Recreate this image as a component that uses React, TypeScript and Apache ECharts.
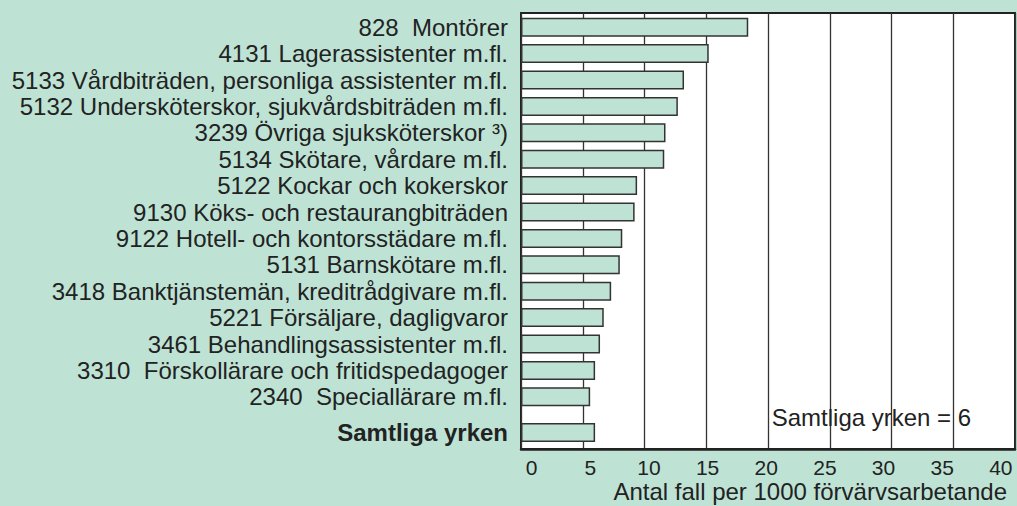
import React, { useEffect, useRef } from "react";
import * as echarts from "echarts";

const categories = [
  "828  Montörer",
  "4131 Lagerassistenter m.fl.",
  "5133 Vårdbiträden, personliga assistenter m.fl.",
  "5132 Undersköterskor, sjukvårdsbiträden m.fl.",
  "3239 Övriga sjuksköterskor ³)",
  "5134 Skötare, vårdare m.fl.",
  "5122 Kockar och kokerskor",
  "9130 Köks- och restaurangbiträden",
  "9122 Hotell- och kontorsstädare m.fl.",
  "5131 Barnskötare m.fl.",
  "3418 Banktjänstemän, kreditrådgivare m.fl.",
  "5221 Försäljare, dagligvaror",
  "3461 Behandlingsassistenter m.fl.",
  "3310  Förskollärare och fritidspedagoger",
  "2340  Speciallärare m.fl.",
];
const values = [18.4, 15.2, 13.2, 12.7, 11.7, 11.6, 9.4, 9.2, 8.2, 8.0, 7.3, 6.7, 6.4, 6.0, 5.6];

const totalCategory = ["Samtliga yrken"];
const totalValue = [6.0];

const tickLabels = ["0", "5", "10", "15", "20", "25", "30", "35", "40"];
const axisTitle = "Antal fall per 1000 förvärvsarbetande";
const note = "Samtliga yrken = 6";

const BG = "#bee3d5";
const INK = "#222222";
const FONT = "'Liberation Sans', Arial, sans-serif";

export default function App() {
  const ref = useRef<HTMLDivElement>(null);
  useEffect(() => {
    if (!ref.current) return;
    const chart = echarts.init(ref.current, undefined, { renderer: "svg" });
    const hiddenX = (gi: number) => ({
      type: "value" as const,
      gridIndex: gi,
      min: 0,
      max: 40,
      interval: 5,
      show: false,
      splitLine: { show: false },
    });
    chart.setOption({
      animation: false,
      backgroundColor: BG,
      textStyle: { fontFamily: FONT },
      grid: [
        {
          left: 521,
          top: 13,
          width: 494,
          height: 436,
          show: true,
          backgroundColor: "#ffffff",
          borderColor: INK,
          borderWidth: 2,
        },
        { left: 521, top: 14, width: 494, height: 396 },
        { left: 521, top: 416, width: 494, height: 33 },
        { left: 531.7, top: 13, width: 469.1, height: 436 },
      ],
      xAxis: [
        {
          type: "value",
          gridIndex: 0,
          min: 0,
          max: 40,
          interval: 5,
          axisLabel: { show: false },
          axisTick: { show: false },
          axisLine: { show: true, lineStyle: { color: INK, width: 2.5 } },
          splitLine: { show: true, lineStyle: { color: "#333333", width: 1.3 } },
        },
        hiddenX(1),
        hiddenX(2),
        {
          type: "value",
          gridIndex: 3,
          min: 0,
          max: 40,
          interval: 5,
          axisLine: { show: false },
          axisTick: { show: false },
          splitLine: { show: false },
          axisLabel: {
            show: true,
            margin: 8,
            color: INK,
            fontSize: 21,
            lineHeight: 20,
            fontFamily: FONT,
            formatter: (v: number) => tickLabels[Math.round(v / 5)] ?? "",
          },
        },
      ],
      yAxis: [
        { type: "value", gridIndex: 0, show: false, splitLine: { show: false } },
        {
          type: "category",
          gridIndex: 1,
          inverse: true,
          data: categories,
          axisLine: { show: false },
          axisTick: { show: false },
          splitLine: { show: false },
          axisLabel: { interval: 0, margin: 13, color: INK, fontSize: 24, lineHeight: 24, fontFamily: FONT },
        },
        {
          type: "category",
          gridIndex: 2,
          inverse: true,
          data: totalCategory,
          axisLine: { show: false },
          axisTick: { show: false },
          splitLine: { show: false },
          axisLabel: { interval: 0, margin: 13, color: INK, fontSize: 24, fontWeight: "bold", fontFamily: FONT },
        },
        { type: "value", gridIndex: 3, show: false, splitLine: { show: false } },
      ],
      series: [
        {
          type: "bar",
          xAxisIndex: 1,
          yAxisIndex: 1,
          data: values,
          barWidth: 19,
          itemStyle: { color: BG, borderColor: "#333333", borderWidth: 1.5 },
        },
        {
          type: "bar",
          xAxisIndex: 2,
          yAxisIndex: 2,
          data: totalValue,
          barWidth: 19,
          itemStyle: { color: BG, borderColor: "#333333", borderWidth: 1.5 },
        },
      ],
      graphic: [
        {
          type: "text",
          x: 771.7,
          y: 417,
          z: 10,
          style: {
            text: note,
            fill: INK,
            font: `24px ${FONT}`,
            textAlign: "left",
            textVerticalAlign: "middle",
          },
        },
        {
          type: "text",
          x: 1007,
          y: 491,
          style: {
            text: axisTitle,
            fill: INK,
            font: `24px ${FONT}`,
            textAlign: "right",
            textVerticalAlign: "middle",
          },
        },
      ],
    });
    return () => chart.dispose();
  }, []);
  return (
    <div
      ref={ref}
      style={{ position: "fixed", left: 0, top: 0, width: 1017, height: 506 }}
    />
  );
}
